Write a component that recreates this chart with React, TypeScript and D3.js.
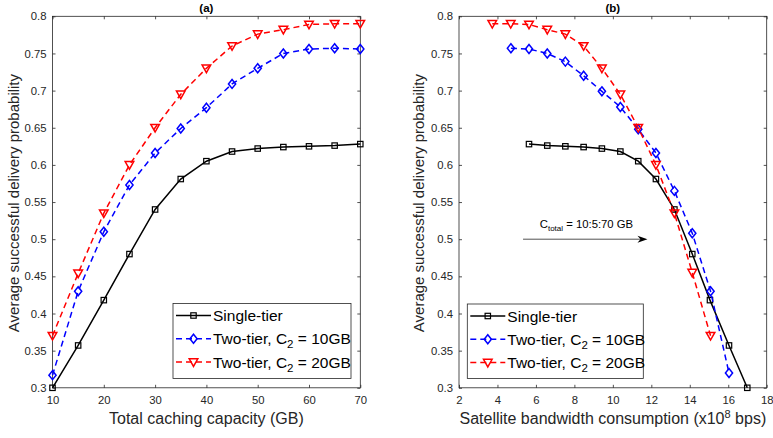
import { useEffect, useRef } from 'react';
import { select, scaleLinear, line, axisBottom, axisLeft, axisTop, axisRight } from 'd3';

// panel (a): total caching capacity (GB)
const capacityGB = [10, 15, 20, 25, 30, 35, 40, 45, 50, 55, 60, 65, 70];
const singleA = [0.3, 0.357, 0.418, 0.48, 0.54, 0.581, 0.605, 0.618, 0.622, 0.624, 0.625, 0.626, 0.628];
const twoTier10A = [0.317, 0.43, 0.51, 0.573, 0.616, 0.649, 0.677, 0.709, 0.73, 0.75, 0.756, 0.757, 0.756];
const twoTier20A = [0.37, 0.454, 0.535, 0.6, 0.65, 0.695, 0.73, 0.76, 0.776, 0.782, 0.789, 0.79, 0.79];

// panel (b): satellite bandwidth consumption (x10^8 bps)
const bwSingle = [5.64, 6.59, 7.53, 8.48, 9.43, 10.39, 11.32, 12.24, 13.2, 14.13, 15.05, 16.04, 16.99];
const singleB = [0.628, 0.626, 0.625, 0.624, 0.622, 0.618, 0.605, 0.581, 0.54, 0.48, 0.418, 0.357, 0.3];
const bwTwo10 = [4.7, 5.64, 6.59, 7.53, 8.48, 9.43, 10.39, 11.32, 12.24, 13.2, 14.13, 15.08, 16.04];
const twoTier10B = [0.757, 0.756, 0.75, 0.739, 0.72, 0.699, 0.678, 0.648, 0.616, 0.565, 0.508, 0.43, 0.32];
const bwTwo20 = [3.73, 4.69, 5.64, 6.59, 7.53, 8.48, 9.43, 10.39, 11.32, 12.24, 13.2, 14.13, 15.08];
const twoTier20B = [0.79, 0.79, 0.789, 0.782, 0.776, 0.76, 0.73, 0.695, 0.65, 0.6, 0.535, 0.455, 0.37];

const yTicks = [0.3, 0.35, 0.4, 0.45, 0.5, 0.55, 0.6, 0.65, 0.7, 0.75, 0.8];
const xTicksA = [10, 20, 30, 40, 50, 60, 70];
const xTicksB = [2, 4, 6, 8, 10, 12, 14, 16, 18];

const FONT = '"Liberation Sans", Arial, sans-serif';
const AXIS = '#262626';

const drawMarker = (g, kind, color, x, y) => {
  if (kind === 'square') {
    g.append('rect').attr('x', x - 2.7).attr('y', y - 2.7).attr('width', 5.4).attr('height', 5.4)
      .attr('fill', 'none').attr('stroke', color).attr('stroke-width', 1.2);
  } else if (kind === 'diamond') {
    g.append('path').attr('d', `M${x},${y - 4.5}L${x + 3.6},${y}L${x},${y + 4.5}L${x - 3.6},${y}Z`)
      .attr('fill', 'none').attr('stroke', color).attr('stroke-width', 1.5);
  } else {
    g.append('path').attr('d', `M${x - 4.3},${y - 3.3}L${x + 4.3},${y - 3.3}L${x},${y + 4.3}Z`)
      .attr('fill', 'none').attr('stroke', color).attr('stroke-width', 1.5);
  }
};

const seriesStyle = [
  { kind: 'square', color: '#000000', dash: null, label: 'Single-tier', sub: null, tail: null },
  { kind: 'diamond', color: '#0000ff', dash: '6,4', label: 'Two-tier, C', sub: '2', tail: ' = 10GB' },
  { kind: 'triangle', color: '#ff0000', dash: '6,4', label: 'Two-tier, C', sub: '2', tail: ' = 20GB' },
];

const drawPanel = (svg, opts) => {
  const { left, right, top, bottom, xDomain, xTicks, series, title, xLabel, legendPos, yLabelX } = opts;
  const x = scaleLinear().domain(xDomain).range([left, right]);
  const y = scaleLinear().domain([0.3, 0.8]).range([bottom, top]);
  const g = svg.append('g');

  g.append('rect').attr('x', left).attr('y', top).attr('width', right - left).attr('height', bottom - top)
    .attr('fill', 'white');

  const styleAxis = (a) => {
    a.select('.domain').remove();
    a.selectAll('line').attr('stroke', AXIS).attr('stroke-width', 0.8);
    a.selectAll('text').attr('fill', AXIS).style('font-family', FONT).style('font-size', '11.3px');
  };

  g.append('g').attr('transform', `translate(0,${bottom})`)
    .call(axisBottom(x).tickValues(xTicks).tickSizeInner(-3).tickSizeOuter(0).tickPadding(8))
    .call(styleAxis);
  g.append('g').attr('transform', `translate(0,${top})`)
    .call(axisTop(x).tickValues(xTicks).tickSizeInner(-3).tickSizeOuter(0).tickFormat(() => ''))
    .call(styleAxis);
  g.append('g').attr('transform', `translate(${left},0)`)
    .call(axisLeft(y).tickValues(yTicks).tickSizeInner(-3).tickSizeOuter(0).tickPadding(6)
      .tickFormat((d) => String(+d.toFixed(2))))
    .call(styleAxis);
  g.append('g').attr('transform', `translate(${right},0)`)
    .call(axisRight(y).tickValues(yTicks).tickSizeInner(-3).tickSizeOuter(0).tickFormat(() => ''))
    .call(styleAxis);

  g.append('rect').attr('x', left).attr('y', top).attr('width', right - left).attr('height', bottom - top)
    .attr('fill', 'none').attr('stroke', AXIS).attr('stroke-width', 0.8);

  series.forEach((s, i) => {
    const st = seriesStyle[i];
    const pts = s.xs.map((v, j) => [x(v), y(s.ys[j])]);
    g.append('path').attr('d', line()(pts)).attr('fill', 'none').attr('stroke', st.color)
      .attr('stroke-width', 1.5).attr('stroke-dasharray', st.dash);
    pts.forEach((p) => drawMarker(g, st.kind, st.color, p[0], p[1]));
  });

  // title
  g.append('text').attr('x', (left + right) / 2).attr('y', 12).attr('text-anchor', 'middle')
    .style('font-family', FONT).style('font-size', '11.5px').style('font-weight', 'bold').attr('fill', '#000')
    .text(title);

  // x label
  const xl = g.append('text').attr('x', (left + right) / 2).attr('y', 424).attr('text-anchor', 'middle')
    .style('font-family', FONT).style('font-size', '16px').attr('fill', AXIS);
  xLabel(xl);

  // y label
  g.append('text').attr('transform', `translate(${yLabelX},${(top + bottom) / 2 + 1}) rotate(-90)`)
    .attr('text-anchor', 'middle').style('font-family', FONT).style('font-size', '15px').attr('fill', AXIS)
    .text('Average successful delivery probability');

  // legend
  const [lx, ly, lw, lh] = legendPos;
  const lg = g.append('g');
  lg.append('rect').attr('x', lx).attr('y', ly).attr('width', lw).attr('height', lh)
    .attr('fill', 'white').attr('stroke', AXIS).attr('stroke-width', 0.8);
  seriesStyle.forEach((st, i) => {
    const ry = ly + 12 + i * 23.3;
    lg.append('line').attr('x1', lx + 3).attr('x2', lx + 38).attr('y1', ry).attr('y2', ry)
      .attr('stroke', st.color).attr('stroke-width', 1.5).attr('stroke-dasharray', st.dash);
    drawMarker(lg, st.kind, st.color, lx + 20.5, ry);
    const t = lg.append('text').attr('x', lx + 40).attr('y', ry + 5.5)
      .style('font-family', FONT).style('font-size', '15.5px').attr('fill', '#000');
    t.append('tspan').text(st.label);
    if (st.sub) {
      t.append('tspan').attr('dy', 4).style('font-size', '11.5px').text(st.sub);
      t.append('tspan').attr('dy', -4).text(st.tail);
    }
  });

  return { x, y, g };
};

const App = () => {
  const svgRef = useRef(null);

  useEffect(() => {
    const svg = select(svgRef.current);
    svg.selectAll('*').remove();

    drawPanel(svg, {
      left: 52.5, right: 360.3, top: 16.3, bottom: 387.8,
      xDomain: [10, 70], xTicks: xTicksA, title: '(a)', yLabelX: 19,
      legendPos: [173, 303.5, 178, 75],
      series: [
        { xs: capacityGB, ys: singleA },
        { xs: capacityGB, ys: twoTier10A },
        { xs: capacityGB, ys: twoTier20A },
      ],
      xLabel: (t) => t.text('Total caching capacity (GB)'),
    });

    const b = drawPanel(svg, {
      left: 459, right: 766.7, top: 16.3, bottom: 387.8,
      xDomain: [2, 18], xTicks: xTicksB, title: '(b)', yLabelX: 424,
      legendPos: [467.3, 304, 176, 74.5],
      series: [
        { xs: bwSingle, ys: singleB },
        { xs: bwTwo10, ys: twoTier10B },
        { xs: bwTwo20, ys: twoTier20B },
      ],
      xLabel: (t) => {
        t.append('tspan').text('Satellite bandwidth consumption (x10');
        t.append('tspan').attr('dy', -6).style('font-size', '11px').text('8');
        t.append('tspan').attr('dy', 6).text(' bps)');
      },
    });

    // annotation arrow: C_total = 10:5:70 GB
    const ax1 = b.x(5.33);
    const ax2 = b.x(11.8);
    const ay = b.y(0.5);
    b.g.append('line').attr('x1', ax1).attr('x2', ax2 - 6).attr('y1', ay).attr('y2', ay)
      .attr('stroke', '#262626').attr('stroke-width', 0.8);
    b.g.append('path').attr('d', `M${ax2},${ay}L${ax2 - 10},${ay - 3.5}L${ax2 - 7},${ay}L${ax2 - 10},${ay + 3.5}Z`)
      .attr('fill', '#000');
    const at = b.g.append('text').attr('x', b.x(6.2)).attr('y', ay - 11)
      .style('font-family', FONT).style('font-size', '11.3px').attr('fill', '#000');
    at.append('tspan').text('C');
    at.append('tspan').attr('dy', 3).style('font-size', '8px').text('total');
    at.append('tspan').attr('dy', -3).text(' = 10:5:70 GB');
  }, []);

  return (
    <div style={{ position: 'fixed', left: 0, top: 0, width: 773, height: 438, background: 'white' }}>
      <svg ref={svgRef} width={773} height={438} />
    </div>
  );
};

export default App;
